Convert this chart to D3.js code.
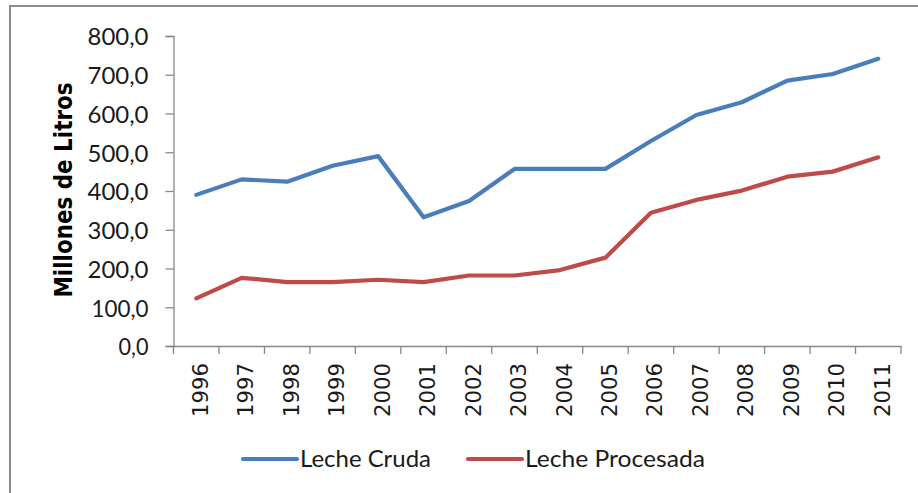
<!DOCTYPE html>
<html><head><meta charset="utf-8">
<script src="https://cdn.jsdelivr.net/npm/d3@7"></script>
<style>body{margin:0;background:#fff}svg{display:block}</style>
</head><body>
<svg id="c" width="918" height="493"></svg>
<script>
const years = ["1996","1997","1998","1999","2000","2001","2002","2003","2004","2005","2006","2007","2008","2009","2010","2011"];
const lecheCruda = [390,430,424,465,490,332,374,457,457,457,529,596,629,685,702,741];
const lecheProcesada = [123,176,165,165,171,165,182,182,196,228,344,377,401,437,450,487];
const yTicks = [0,100,200,300,400,500,600,700,800];
const seriesNames = ["Leche Cruda","Leche Procesada"];
const seriesColors = ["#4A7EBB","#BE4B48"];

const svg = d3.select("#c");
const L = 173.5, R = 901, T = 36, B = 346;
const axisColor = "#888888";

svg.append("rect").attr("x",10).attr("y",6).attr("width",920).attr("height",500)
  .attr("fill","none").attr("stroke","#8c8c8c").attr("stroke-width",2);

const x = d3.scaleBand().domain(years).range([L,R]);
const y = d3.scaleLinear().domain([0,800]).range([B,T]);

// y axis
const ya = svg.append("g").attr("transform",`translate(${L},0)`)
  .call(d3.axisLeft(y).tickValues(yTicks).tickSize(8).tickFormat(d=>d3.format(".1f")(d).replace(".",",")));
ya.select(".domain").attr("stroke",axisColor).attr("stroke-width",1.3);
ya.selectAll(".tick line").attr("stroke",axisColor).attr("stroke-width",1.3);
ya.selectAll(".tick text").attr("font-family","Lato").attr("font-size",23).attr("fill","#1a1a1a")
  .attr("x",-25).attr("dy","0.38em")
  .attr("textLength",function(d){return d===0?30:(d===100?57:61);}).attr("lengthAdjust","spacingAndGlyphs");

// x axis
const xa = svg.append("g").attr("transform",`translate(0,${B})`)
  .call(d3.axisBottom(x).tickSize(0).tickFormat(d=>d));
xa.select(".domain").attr("stroke",axisColor).attr("stroke-width",1.3);
const bounds = years.map(d=>x(d)).concat([R]);
xa.selectAll(".bnd").data(bounds).enter().append("line").attr("class","bnd")
  .attr("x1",d=>d).attr("x2",d=>d).attr("y1",0).attr("y2",8)
  .attr("stroke",axisColor).attr("stroke-width",1.3);
xa.selectAll(".tick text").attr("font-family","DejaVu Sans").attr("font-size",21).attr("fill","#1a1a1a")
  .attr("transform","rotate(-90)").attr("text-anchor","end")
  .attr("x",-17).attr("y",4).attr("dy","0.36em")
  .attr("textLength",54).attr("lengthAdjust","spacingAndGlyphs");

// y title
svg.append("text").attr("transform","translate(72,190) rotate(-90)")
  .attr("text-anchor","middle").attr("font-family","DejaVu Sans").attr("font-weight","bold")
  .attr("font-size",24).attr("fill","#000")
  .attr("textLength",215).attr("lengthAdjust","spacingAndGlyphs")
  .text("Millones de Litros");

// lines
const line = d3.line().x((d,i)=>x(years[i])+x.bandwidth()/2).y(d=>y(d));
[lecheCruda, lecheProcesada].forEach((s,i)=>{
  svg.append("path").datum(s).attr("d",line).attr("fill","none")
    .attr("stroke",seriesColors[i]).attr("stroke-width",4.2)
    .attr("stroke-linejoin","round").attr("stroke-linecap","round");
});

// legend
const legX = [243,468], legTL = [131,180];
seriesNames.forEach((n,i)=>{
  svg.append("line").attr("x1",legX[i]).attr("x2",legX[i]+54).attr("y1",459).attr("y2",459)
    .attr("stroke",seriesColors[i]).attr("stroke-width",4.2).attr("stroke-linecap","round");
  svg.append("text").attr("x",legX[i]+57).attr("y",467)
    .attr("font-family","Lato").attr("font-size",24).attr("fill","#1a1a1a")
    .attr("textLength",legTL[i]).attr("lengthAdjust","spacingAndGlyphs").text(n);
});
</script>
</body></html>
